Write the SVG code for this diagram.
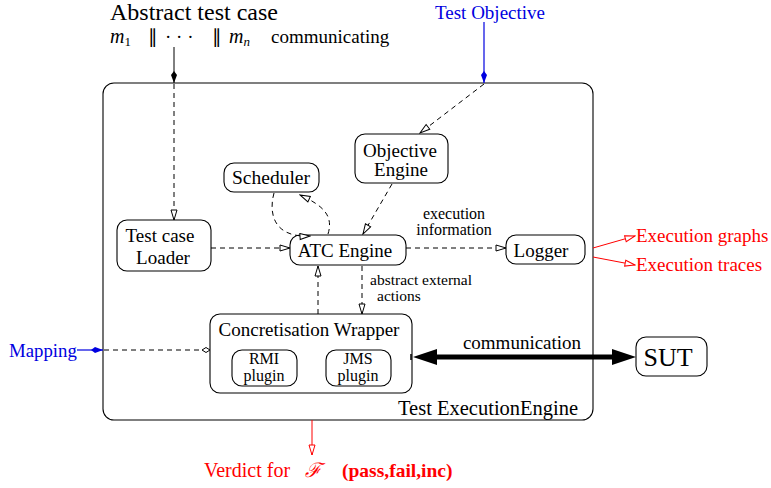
<svg xmlns="http://www.w3.org/2000/svg" width="771" height="488" viewBox="0 0 771 488" font-family="Liberation Serif, serif">
<style>
.n{fill:#fff;stroke:#000;stroke-width:1.1}
.t{fill:#000}
.d{fill:none;stroke:#000;stroke-width:1;stroke-dasharray:5,4}
.s{fill:none;stroke:#000;stroke-width:1}
.b{fill:none;stroke:#0000e0;stroke-width:1.2}
.r{fill:none;stroke:#f00;stroke-width:1}
</style>
<defs>
<marker id="ot" markerWidth="12" markerHeight="8" refX="11" refY="4" orient="auto" markerUnits="userSpaceOnUse"><path d="M1,1 L11,4 L1,7 Z" fill="#fff" stroke="#000" stroke-width="1"/></marker>
<marker id="otr" markerWidth="12" markerHeight="8" refX="11" refY="4" orient="auto" markerUnits="userSpaceOnUse"><path d="M1,1 L11,4 L1,7 Z" fill="#fff" stroke="#f00" stroke-width="1"/></marker>
<marker id="od" markerWidth="10" markerHeight="8" refX="9" refY="4" orient="auto" markerUnits="userSpaceOnUse"><path d="M1,4 L5,1.5 L9,4 L5,6.5 Z" fill="#fff" stroke="#000" stroke-width="1"/></marker>
<marker id="fk" markerWidth="14" markerHeight="8" refX="13" refY="4" orient="auto" markerUnits="userSpaceOnUse"><path d="M1,4 L5,1 L13,4 L5,7 Z" fill="#000"/></marker>
<marker id="fkb" markerWidth="14" markerHeight="8" refX="13" refY="4" orient="auto" markerUnits="userSpaceOnUse"><path d="M1,4 L5,1 L13,4 L5,7 Z" fill="#0000e0"/></marker>
</defs>

<g id="engine">
<rect class="n" x="103" y="83" width="490" height="337" rx="11"/>
<text class="t" x="398" y="415" font-size="20.5">Test ExecutionEngine</text>
</g>

<g id="abstract-test-case">
<text class="t" x="110" y="20" font-size="24">Abstract test case</text>
<text class="t" font-size="19" y="43"><tspan x="110" font-style="italic" font-size="20">m</tspan><tspan font-size="13" dy="3">1</tspan><tspan x="148" dy="-3">∥</tspan><tspan x="165">· · ·</tspan><tspan x="212">∥</tspan><tspan x="229" font-style="italic" font-size="20">m</tspan><tspan font-size="13" font-style="italic" dy="3">n</tspan><tspan x="271" dy="-3">communicating</tspan></text>
</g>

<g id="test-objective">
<text x="490" y="19" font-size="19" text-anchor="middle" fill="#0000e0">Test Objective</text>
</g>

<g id="objective-engine">
<rect class="n" x="355" y="134" width="93" height="49" rx="10"/>
<text class="t" x="400" y="157" font-size="19" text-anchor="middle">Objective</text>
<text class="t" x="401" y="176" font-size="19" text-anchor="middle">Engine</text>
</g>

<g id="scheduler">
<rect class="n" x="224" y="163" width="95" height="29" rx="10"/>
<text class="t" x="271" y="184" font-size="19.5" text-anchor="middle">Scheduler</text>
</g>

<g id="loader">
<rect class="n" x="117" y="220" width="94" height="51" rx="10"/>
<text class="t" x="160" y="242" font-size="19" text-anchor="middle">Test case</text>
<text class="t" x="163" y="264" font-size="19" text-anchor="middle">Loader</text>
</g>

<g id="atc-engine">
<rect class="n" x="290" y="235" width="116" height="30" rx="10"/>
<text class="t" x="345" y="257" font-size="19" text-anchor="middle">ATC Engine</text>
</g>

<g id="logger">
<rect class="n" x="506" y="235" width="79" height="29" rx="10"/>
<text class="t" x="541" y="257" font-size="19" text-anchor="middle">Logger</text>
</g>

<g id="concretisation">
<rect class="n" x="210" y="314" width="202" height="79" rx="10"/>
<text class="t" x="309" y="336" font-size="19" text-anchor="middle">Concretisation Wrapper</text>
</g>
<g id="rmi">
<rect class="n" x="232" y="350" width="65" height="36" rx="10"/>
<text class="t" x="264" y="364" font-size="16" text-anchor="middle">RMI</text>
<text class="t" x="264" y="381" font-size="16" text-anchor="middle">plugin</text>
</g>
<g id="jms">
<rect class="n" x="326" y="350" width="65" height="36" rx="10"/>
<text class="t" x="358" y="364" font-size="16" text-anchor="middle">JMS</text>
<text class="t" x="358" y="381" font-size="16" text-anchor="middle">plugin</text>
</g>

<g id="sut">
<rect class="n" x="636" y="337" width="71" height="39" rx="10"/>
<text class="t" x="668" y="366" font-size="26" text-anchor="middle">SUT</text>
</g>

<g id="mapping">
<text x="9" y="357" font-size="18.8" fill="#0000e0">Mapping</text>
</g>

<g id="outputs">
<text x="636" y="242" font-size="19" fill="#f00">Execution graphs</text>
<text x="636" y="271" font-size="19" fill="#f00">Execution traces</text>
<text y="477" font-size="20" fill="#f00"><tspan x="204">Verdict for</tspan><tspan x="305" font-style="italic">ℱ</tspan><tspan x="342" font-weight="bold" font-size="19.5">(pass,fail,inc)</tspan></text>
</g>

<g id="connectors">
<line class="s" x1="174" y1="47" x2="174" y2="83" marker-end="url(#fk)"/>
<line class="d" x1="174" y1="84" x2="174" y2="220" marker-end="url(#ot)"/>
<line class="b" x1="484" y1="22" x2="484" y2="83" marker-end="url(#fkb)"/>
<line class="d" x1="484" y1="84" x2="420" y2="133" marker-end="url(#ot)"/>
<line class="d" x1="392" y1="184" x2="363" y2="234" marker-end="url(#ot)"/>
<path class="d" d="M274,193 C268,215 275,238 310,236" marker-end="url(#ot)"/>
<path class="d" d="M328,234 C334,215 322,205 300,195" marker-end="url(#ot)"/>
<line class="d" x1="211" y1="248" x2="290" y2="248" marker-end="url(#ot)"/>
<line class="d" x1="406" y1="248" x2="506" y2="248" marker-end="url(#ot)"/>
<text class="t" x="454" y="219" font-size="16" text-anchor="middle">execution</text>
<text class="t" x="454" y="235" font-size="16" text-anchor="middle">information</text>
<line class="d" x1="318" y1="314" x2="318" y2="266" marker-end="url(#ot)"/>
<line class="d" x1="362" y1="266" x2="362" y2="314" marker-end="url(#ot)"/>
<text class="t" x="370" y="285" font-size="15.5">abstract external</text>
<text class="t" x="377" y="301" font-size="15.5">actions</text>
<line class="b" x1="77" y1="350" x2="103" y2="350" marker-end="url(#fkb)"/>
<line class="d" x1="104" y1="350" x2="210" y2="350" marker-end="url(#od)"/>
<line x1="435" y1="357" x2="614" y2="357" stroke="#000" stroke-width="5"/>
<path d="M413,357 L437,349 L437,365 Z" fill="#000"/>
<path d="M636,357 L612,349 L612,365 Z" fill="#000"/>
<line x1="411" y1="354" x2="411" y2="360" stroke="#000" stroke-width="1.5"/>
<text class="t" x="522" y="349" font-size="19" text-anchor="middle">communication</text>
<line class="r" x1="593" y1="248" x2="635" y2="236" marker-end="url(#otr)"/>
<line class="r" x1="593" y1="257" x2="635" y2="265" marker-end="url(#otr)"/>
<line class="r" x1="312" y1="420" x2="312" y2="455" marker-end="url(#otr)"/>
</g>
</svg>
